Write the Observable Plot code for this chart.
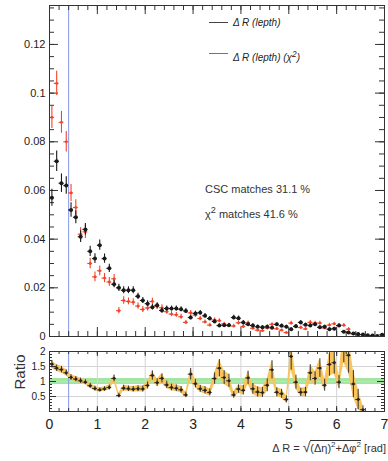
<!DOCTYPE html>
<html>
<head>
<meta charset="utf-8">
<script src="https://cdn.jsdelivr.net/npm/d3@7"></script>
<script src="https://cdn.jsdelivr.net/npm/@observablehq/plot@0.6"></script>
<style>
  body { margin: 0; background: #fff; font-family: "Liberation Sans", Arial, sans-serif; }
  #wrap { position: relative; width: 388px; height: 461px; overflow: hidden; background: #fff; }
  #wrap svg { position: absolute; left: 0; }
  .t { position: absolute; white-space: nowrap; color: #222; line-height: 1; }
  .sw { position: absolute; height: 1px; }
</style>
</head>
<body>
<div id="wrap"></div>
<script>
// ΔR histogram binning (0.1 rad bins from 0 to 7)
const binWidth = 0.1;
const xRange = [0, 7];

// Normalised ΔR(lepth) for CSC matching
const dRcsc = [
  0.057, 0.072, 0.063, 0.062, 0.052, 0.049, 0.041, 0.044, 0.035, 0.032,
  0.0375, 0.032, 0.028, 0.0215, 0.020, 0.019, 0.019, 0.019, 0.0165, 0.0148,
  0.0135, 0.012, 0.0128, 0.0107, 0.0115, 0.0115, 0.0115, 0.0112, 0.0105, 0.0078,
  0.0095, 0.0098, 0.0085, 0.0074, 0.0062, 0.0045, 0.0046, 0.0046, 0.0078, 0.0075,
  0.0058, 0.0050, 0.0045, 0.0040, 0.0038, 0.0040, 0.0036, 0.0050, 0.0044, 0.0040,
  0.0030, 0.0042, 0.0058, 0.0048, 0.0045, 0.0050, 0.0038, 0.0040, 0.0030, 0.0032,
  0.0045, 0.0020, 0.0016, 0.0012, 0.0010, 0.0008, 0.0005, 0.0004, 0.0002, 0.0007
];
const errCsc = [
  0.0035, 0.0042, 0.0038, 0.0036, 0.0030, 0.0027, 0.0024, 0.0024, 0.0021, 0.0020,
  0.0021, 0.0019, 0.0017, 0.0015, 0.0015, 0.0014, 0.0014, 0.0014, 0.0013, 0.0012,
  0.0012, 0.0011, 0.0011, 0.0010, 0.0010, 0.0010, 0.0010, 0.0010, 0.0010, 0.0009,
  0.0009, 0.0009, 0.0009, 0.0008, 0.0008, 0.0007, 0.0007, 0.0007, 0.0009, 0.0009,
  0.0008, 0.0007, 0.0007, 0.0007, 0.0006, 0.0007, 0.0006, 0.0007, 0.0007, 0.0006,
  0.0006, 0.0007, 0.0008, 0.0007, 0.0007, 0.0007, 0.0006, 0.0006, 0.0006, 0.0006,
  0.0007, 0.0005, 0.0004, 0.0004, 0.0004, 0.0003, 0.0003, 0.0003, 0.0002, 0.0003
];

// Normalised ΔR(lepth) for χ² matching
const dRchi2 = [
  0.090, 0.104, 0.088, 0.080, 0.059, 0.053, 0.042, 0.043, 0.030, 0.0245,
  0.027, 0.024, 0.0224, 0.0237, 0.0106, 0.0148, 0.0144, 0.0141, 0.0125, 0.0111,
  0.0117, 0.0144, 0.0123, 0.0118, 0.0102, 0.0092, 0.0089, 0.0081, 0.0058, 0.0097,
  0.0088, 0.0074, 0.0060, 0.0047, 0.0068, 0.0065, 0.0052, 0.0047, 0.0043, 0.0056,
  0.0041, 0.0056, 0.0034, 0.0026, 0.0024, 0.0035, 0.0050, 0.0032, 0.0026, 0.0016,
  0.0055, 0.0041, 0.0037, 0.0031, 0.0058, 0.0055, 0.0055, 0.0035, 0.0047, 0.0052,
  0.0044, 0.0046, 0.0030, 0.0011, 0.0004, 0.00005, 0, 0, 0, 0
];
const errChi2 = [
  0.0045, 0.0050, 0.0045, 0.0042, 0.0035, 0.0032, 0.0027, 0.0027, 0.0022, 0.0020,
  0.0020, 0.0019, 0.0018, 0.0018, 0.0013, 0.0015, 0.0014, 0.0014, 0.0013, 0.0012,
  0.0012, 0.0013, 0.0012, 0.0012, 0.0011, 0.0010, 0.0010, 0.0010, 0.0008, 0.0010,
  0.0010, 0.0009, 0.0008, 0.0007, 0.0008, 0.0008, 0.0007, 0.0007, 0.0007, 0.0008,
  0.0007, 0.0008, 0.0006, 0.0005, 0.0005, 0.0006, 0.0007, 0.0006, 0.0005, 0.0004,
  0.0008, 0.0007, 0.0006, 0.0006, 0.0008, 0.0008, 0.0008, 0.0006, 0.0007, 0.0007,
  0.0007, 0.0007, 0.0006, 0.0004, 0.0003, 0.0001, 0, 0, 0, 0
];

// ΔR cut marker and ratio reference band
const cutDR = 0.4;
const ratioBand = [0.9, 1.1];

// Axis ticks and labels
const xTicks = [0, 1, 2, 3, 4, 5, 6, 7];
const yTicks = [0, 0.02, 0.04, 0.06, 0.08, 0.1, 0.12];
const ratioTicks = [0.5, 1, 1.5, 2];
const ratioGrid = [0.5, 1, 1.5];
const legendLabels = ["Δ R (lepth)", "Δ R (lepth) (χ<sup>2</sup>)"];
const matchLabels = ["CSC matches 31.1 %", "χ<sup>2</sup> matches 41.6 %"];

const cscColor = "#1a1a1a";
const chi2Color = "#f2442a";
const font = '"Liberation Sans", Arial, sans-serif';

const rows = dRcsc.map((b, i) => ({
  x: xRange[0] + (i + 0.5) * binWidth,
  x0: xRange[0] + i * binWidth,
  x1: xRange[0] + (i + 1) * binWidth,
  b, eb: errCsc[i], c: dRchi2[i], ec: errChi2[i]
}));
const chi2Rows = rows.filter(d => d.c > 0);
const ratioRows = rows.filter(d => d.b > 0 && d.c > 0).map(d => {
  const r = d.c / d.b;
  const e = r * Math.hypot(d.eb / d.b, d.ec / d.c);
  return {...d, r, lo: r - e, hi: r + e};
});

const W = 388, mL = 49, mR = 4;
const frameW = W - mL - mR;

// ---- main panel ----
const mainH = 341, mainMT = 5, mainMB = 5;
const mainFH = mainH - mainMT - mainMB;
const xMinor = d3.range(0, 7.0001, 0.2);
const yMinor = d3.range(0, 0.1361, 0.005);

const mainPlot = Plot.plot({
  width: W, height: mainH,
  marginLeft: mL, marginRight: mR, marginTop: mainMT, marginBottom: mainMB,
  style: {background: "transparent", fontFamily: font, color: "#222"},
  x: {domain: xRange, axis: null},
  y: {domain: [0, 0.136]},
  marks: [
    Plot.ruleX([cutDR], {stroke: "#8497f0", strokeWidth: 1}),
    // inward ticks on all four sides
    Plot.ruleX(xTicks, {stroke: "#333", insetTop: mainFH - 9}),
    Plot.ruleX(xMinor, {stroke: "#333", insetTop: mainFH - 5}),
    Plot.ruleX(xTicks, {stroke: "#333", insetBottom: mainFH - 9}),
    Plot.ruleX(xMinor, {stroke: "#333", insetBottom: mainFH - 5}),
    Plot.ruleY(yTicks, {stroke: "#333", insetRight: frameW - 9}),
    Plot.ruleY(yMinor, {stroke: "#333", insetRight: frameW - 5}),
    Plot.ruleY(yTicks, {stroke: "#333", insetLeft: frameW - 9}),
    Plot.ruleY(yMinor, {stroke: "#333", insetLeft: frameW - 5}),
    Plot.axisY(yTicks, {tickSize: 0, tickPadding: 4, fontSize: 11,
      tickFormat: d => String(+d.toFixed(2)), label: null}),
    // χ² matching
    Plot.ruleX(chi2Rows, {x: "x", y1: d => d.c - d.ec, y2: d => d.c + d.ec, stroke: chi2Color, strokeWidth: 1.1, clip: true}),
    Plot.ruleY(chi2Rows, {y: "c", x1: "x0", x2: "x1", stroke: chi2Color, strokeWidth: 1.1, clip: true}),
    Plot.dot(chi2Rows, {x: "x", y: "c", r: 1.4, fill: chi2Color, stroke: null, clip: true}),
    // CSC matching
    Plot.ruleX(rows, {x: "x", y1: d => Math.max(0, d.b - d.eb), y2: d => d.b + d.eb, stroke: cscColor, strokeWidth: 1.1, clip: true}),
    Plot.ruleY(rows, {y: "b", x1: "x0", x2: "x1", stroke: cscColor, strokeWidth: 1.1, clip: true}),
    Plot.dot(rows, {x: "x", y: "b", r: 2, fill: cscColor, stroke: null, clip: true}),
    Plot.frame({stroke: "#333"})
  ]
});
mainPlot.style.top = "0px";

// ---- ratio panel ----
const ratioTop = 341, ratioH = 120, ratioMT = 10, ratioMB = 50;
const ratioFH = ratioH - ratioMT - ratioMB;
const rMinor = d3.range(0, 2.0001, 0.1);

const ratioPlot = Plot.plot({
  width: W, height: ratioH,
  marginLeft: mL, marginRight: mR, marginTop: ratioMT, marginBottom: ratioMB,
  style: {background: "transparent", fontFamily: font, color: "#222"},
  x: {domain: xRange},
  y: {domain: [0, 2]},
  marks: [
    Plot.rect([ratioBand], {x1: xRange[0], x2: xRange[1], y1: d => d[0], y2: d => d[1], fill: "#a3e6a3"}),
    Plot.ruleX(xTicks.slice(1, -1), {stroke: "#d4d4d4"}),
    Plot.ruleY(ratioGrid, {stroke: "#d4d4d4"}),
    Plot.ruleX([cutDR], {stroke: "#8497f0", strokeWidth: 1}),
    Plot.areaY(ratioRows, {x: "x", y1: "lo", y2: "hi", fill: "#f8c45e", clip: true}),
    Plot.ruleX(ratioRows, {x: "x", y1: "lo", y2: "hi", stroke: "#222", strokeWidth: 0.9, clip: true}),
    Plot.ruleY(ratioRows, {y: "r", x1: "x0", x2: "x1", stroke: "#222", strokeWidth: 0.9, clip: true}),
    Plot.dot(ratioRows, {x: "x", y: "r", r: 1.4, fill: "#222", stroke: null, clip: true}),
    // inward ticks
    Plot.ruleX(xTicks, {stroke: "#333", insetTop: ratioFH - 5}),
    Plot.ruleX(xMinor, {stroke: "#333", insetTop: ratioFH - 3}),
    Plot.ruleX(xTicks, {stroke: "#333", insetBottom: ratioFH - 5}),
    Plot.ruleX(xMinor, {stroke: "#333", insetBottom: ratioFH - 3}),
    Plot.ruleY(ratioTicks, {stroke: "#333", insetRight: frameW - 7}),
    Plot.ruleY(rMinor, {stroke: "#333", insetRight: frameW - 3}),
    Plot.ruleY(ratioTicks, {stroke: "#333", insetLeft: frameW - 7}),
    Plot.ruleY(rMinor, {stroke: "#333", insetLeft: frameW - 3}),
    Plot.axisX(xTicks, {tickSize: 0, tickPadding: 8, fontSize: 14, tickFormat: d => String(d), label: null}),
    Plot.axisY(ratioTicks, {tickSize: 0, tickPadding: 4, fontSize: 10, tickFormat: d => String(d), label: null}),
    Plot.frame({stroke: "#333"})
  ]
});
ratioPlot.style.top = ratioTop + "px";

const wrap = document.getElementById("wrap");
wrap.append(mainPlot, ratioPlot);

function addText(html, css) {
  const el = document.createElement("div");
  el.className = "t";
  el.innerHTML = html;
  Object.assign(el.style, css);
  wrap.append(el);
  return el;
}
function addSwatch(color, left, topPx, width) {
  const el = document.createElement("div");
  el.className = "sw";
  Object.assign(el.style, {left: left + "px", top: topPx + "px", width: width + "px", background: color});
  wrap.append(el);
}

// legend
addSwatch("#444", 209, 22, 19);
addText(legendLabels[0], {left: "233px", top: "18px", fontSize: "10px", fontStyle: "italic"});
addSwatch(chi2Color, 209, 53, 19);
addText(legendLabels[1], {left: "233px", top: "50px", fontSize: "10px", fontStyle: "italic"});

// matching efficiencies
addText(matchLabels[0], {left: "205px", top: "184px", fontSize: "11px", color: "#333"});
addText(matchLabels[1], {left: "205px", top: "206px", fontSize: "11px", color: "#333"});

// axis titles
addText("Ratio", {left: "19px", top: "372px", fontSize: "15px", color: "#333",
  transform: "translate(-50%, -50%) rotate(-90deg)"});
addText('Δ R = <span style="font-size:14px">√</span><span style="border-top:1px solid #333;padding-top:1px">(Δη)<sup style="font-size:8px">2</sup>+Δφ<sup style="font-size:8px">2</sup></span> [rad]',
  {right: "2px", top: "440px", fontSize: "11px", color: "#333"});
</script>
</body>
</html>
